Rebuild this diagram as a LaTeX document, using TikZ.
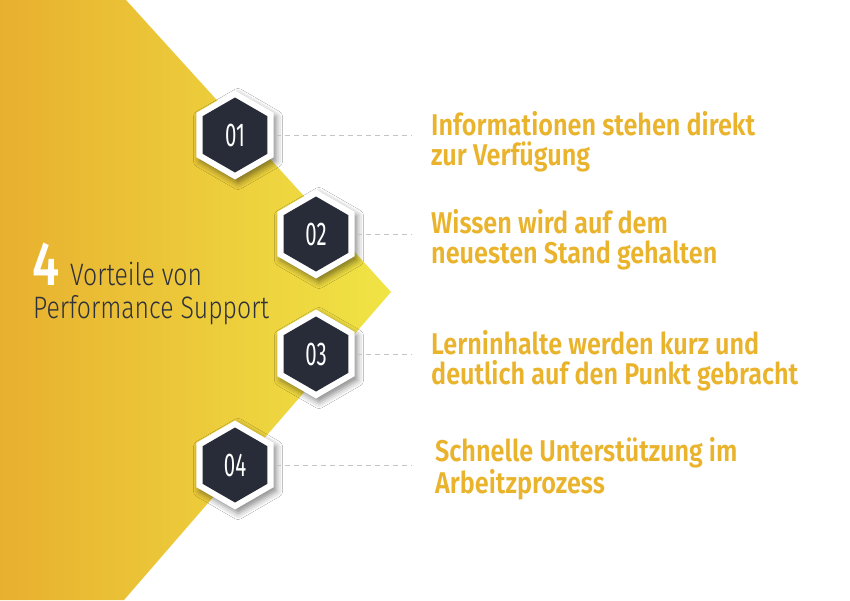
\documentclass[tikz,border=0pt]{standalone}
\usepackage{fontspec}
\setmainfont{Fira Sans}
\newfontfamily\headfont[FakeStretch=0.84]{Fira Sans SemiBold}
\newfontfamily\fourfont[FakeStretch=0.8]{Fira Sans Medium}
\newfontfamily\lightfont[FakeStretch=0.8]{Fira Sans Light}
\newfontfamily\numfont[FakeStretch=0.62]{Fira Sans}
\usetikzlibrary{shapes.geometric,shadows.blur}
\definecolor{yelL}{HTML}{E8B02F}
\definecolor{yelR}{HTML}{F0E445}
\definecolor{txtY}{HTML}{EAB32C}
\definecolor{hexD}{HTML}{282C38}
\definecolor{darkT}{HTML}{2E303B}
\definecolor{dashG}{HTML}{C4C4C4}
\tikzset{
  hexouter/.style={regular polygon, regular polygon sides=6, shape border rotate=30,
    minimum size=89pt, inner sep=0pt, fill=white, draw=none,
    blur shadow={shadow xshift=3pt, shadow yshift=-4pt, shadow blur radius=6pt, shadow opacity=45}},
  hexinner/.style={regular polygon, regular polygon sides=6, shape border rotate=30,
    minimum size=75pt, inner sep=0pt, fill=hexD, draw=none, text=white,
    font=\numfont\fontsize{33}{33}\selectfont},
  dashline/.style={draw=dashG, line width=0.9pt, dash pattern=on 5pt off 4pt},
  heading/.style={anchor=base west, text=txtY, align=left, inner sep=0pt,
    font=\headfont\fontsize{30}{30}\selectfont}
}
\begin{document}
\begin{tikzpicture}[x=1pt,y=-1pt]
\useasboundingbox (0,0) rectangle (850,600);
\fill[white] (0,0) rectangle (850,600);
\shade[left color=yelL, right color=yelR, shading angle=90]
  (0,0) -- (126,0) -- (391,292) -- (124,600) -- (0,600) -- cycle;
% left title
\node[anchor=base west, inner sep=0pt, text=white, font=\fourfont\fontsize{62}{62}\selectfont] (four) at (32,285) {4};
\node[anchor=base west, inner sep=0pt, text=darkT, font=\lightfont\fontsize{31}{31}\selectfont] (vort) at (70,285) {Vorteile von};
\node[anchor=base west, inner sep=0pt, text=darkT, font=\lightfont\fontsize{31}{31}\selectfont] (perf) at (33,318) {Performance Support};
% hexagons
\node[hexouter] (o1) at (235,135) {};
\node[hexouter] (o2) at (316,234) {};
\node[hexouter] (o3) at (316,354) {};
\node[hexouter] (o4) at (235,465) {};
\node[hexinner] (h1) at (o1) {01};
\node[hexinner] (h2) at (o2) {02};
\node[hexinner] (h3) at (o3) {03};
\node[hexinner] (h4) at (o4) {04};
% dashed connectors
\coordinate (e1) at (411,135);
\coordinate (e2) at (411,234);
\coordinate (e3) at (411,354);
\coordinate (e4) at (411,465);
\draw[dashline] (o1.east) ++(2,0) -- (e1);
\draw[dashline] (o2.east) ++(2,0) -- (e2);
\draw[dashline] (o3.east) ++(2,0) -- (e3);
\draw[dashline] (o4.east) ++(2,0) -- (e4);
% texts (base anchor = last line)
\node[heading] (t1) at (431,165) {Informationen stehen direkt\\zur Verfügung};
\node[heading] (t2) at (431,263) {Wissen wird auf dem\\neuesten Stand gehalten};
\node[heading] (t3) at (431,384) {Lerninhalte werden kurz und\\deutlich auf den Punkt gebracht};
\node[heading] (t4) at (435,493) {Schnelle Unterstützung im\\Arbeitzprozess};
\end{tikzpicture}
\end{document}
